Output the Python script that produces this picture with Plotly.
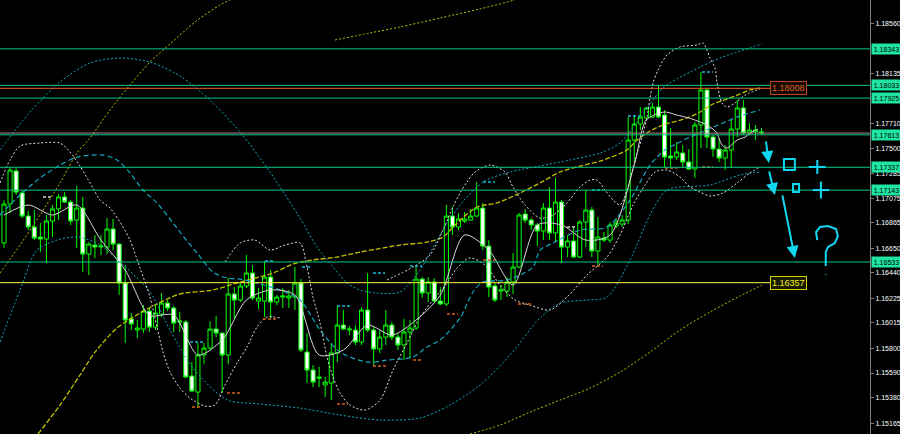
import plotly.graph_objects as go

# ---------------- candle data ----------------
open_ = [1.16694, 1.17025, 1.17306, 1.17119, 1.16923, 1.16830, 1.16745, 1.16728, 1.16881, 1.16983,
         1.17085, 1.17042, 1.16889, 1.16991, 1.16600, 1.16677, 1.16660, 1.16660, 1.16813, 1.16685,
         1.16354, 1.16048, 1.15955, 1.15963, 1.16116, 1.15980, 1.16091, 1.16184, 1.16142, 1.16023,
         1.16023, 1.15564, 1.15428, 1.15743, 1.15802, 1.15963, 1.15929, 1.15743, 1.16261, 1.16210,
         1.16329, 1.16439, 1.16201, 1.16201, 1.16405, 1.16193, 1.16235, 1.16227, 1.16235, 1.16354,
         1.15768, 1.15615, 1.15556, 1.15488, 1.15505, 1.15760, 1.15997, 1.15955, 1.15955, 1.15853,
         1.16125, 1.15955, 1.15794, 1.15895, 1.15997, 1.15895, 1.15828, 1.15938, 1.15972, 1.16388,
         1.16269, 1.16363, 1.16201, 1.16176, 1.16923, 1.16830, 1.16881, 1.16889, 1.16923, 1.16991,
         1.16668, 1.16329, 1.16286, 1.16286, 1.16363, 1.16490, 1.16940, 1.16889, 1.16847, 1.16796,
         1.16991, 1.16779, 1.17042, 1.16660, 1.16711, 1.16575, 1.16872, 1.16974, 1.16626, 1.16736,
         1.16719, 1.16838, 1.16855, 1.16889, 1.17569, 1.17705, 1.17756, 1.17764, 1.17849, 1.17781,
         1.17433, 1.17424, 1.17458, 1.17382, 1.17323, 1.17696, 1.17994, 1.17594, 1.17492, 1.17416,
         1.17484, 1.17662, 1.17841, 1.17628, 1.17637, 1.17628]
high = [1.17059, 1.17340, 1.17331, 1.17144, 1.16966, 1.16974, 1.16864, 1.16932, 1.17017, 1.17110,
        1.17127, 1.17059, 1.17178, 1.17085, 1.16702, 1.16762, 1.16762, 1.16906, 1.16898, 1.16694,
        1.16507, 1.16099, 1.16040, 1.16167, 1.16150, 1.16167, 1.16269, 1.16210, 1.16159, 1.16108,
        1.16040, 1.15683, 1.15845, 1.15845, 1.16031, 1.16074, 1.15929, 1.16397, 1.16320, 1.16354,
        1.16592, 1.16507, 1.16312, 1.16541, 1.16464, 1.16252, 1.16312, 1.16295, 1.16490, 1.16388,
        1.15929, 1.15658, 1.15641, 1.15556, 1.15845, 1.16159, 1.16125, 1.15989, 1.15997, 1.16150,
        1.16439, 1.15980, 1.15955, 1.16125, 1.16023, 1.15929, 1.16048, 1.16040, 1.16490, 1.16405,
        1.16405, 1.16397, 1.16320, 1.17017, 1.17000, 1.16949, 1.16957, 1.16983, 1.17212, 1.17034,
        1.16719, 1.16354, 1.16337, 1.16405, 1.16609, 1.16949, 1.16983, 1.16906, 1.16864, 1.17034,
        1.17170, 1.17246, 1.17059, 1.16762, 1.16830, 1.16889, 1.17144, 1.17000, 1.16915, 1.16787,
        1.16872, 1.16906, 1.16932, 1.17764, 1.17781, 1.17849, 1.17849, 1.17883, 1.18036, 1.17824,
        1.17671, 1.17552, 1.17526, 1.17492, 1.17722, 1.18146, 1.18011, 1.17611, 1.17586, 1.17526,
        1.17739, 1.17909, 1.17909, 1.17713, 1.17696, 1.17671]
low = [1.16651, 1.16949, 1.17102, 1.16906, 1.16804, 1.16719, 1.16617, 1.16524, 1.16745, 1.16889,
       1.17034, 1.16847, 1.16651, 1.16447, 1.16422, 1.16566, 1.16592, 1.16600, 1.16634, 1.16252,
       1.15845, 1.15955, 1.15887, 1.15929, 1.15938, 1.15955, 1.16065, 1.16116, 1.15938, 1.15938,
       1.15547, 1.15428, 1.15292, 1.15666, 1.15785, 1.15895, 1.15420, 1.15666, 1.16048, 1.16193,
       1.16312, 1.16210, 1.16133, 1.16065, 1.16057, 1.16167, 1.16142, 1.16142, 1.16125, 1.15768,
       1.15505, 1.15471, 1.15471, 1.15386, 1.15360, 1.15683, 1.15955, 1.15912, 1.15828, 1.15828,
       1.15938, 1.15649, 1.15760, 1.15828, 1.15870, 1.15785, 1.15700, 1.15717, 1.15955, 1.16227,
       1.16193, 1.16193, 1.16167, 1.16159, 1.16762, 1.16804, 1.16864, 1.16889, 1.16915, 1.16634,
       1.16235, 1.16193, 1.16210, 1.16235, 1.16261, 1.16481, 1.16864, 1.16804, 1.16668, 1.16719,
       1.16719, 1.16702, 1.16524, 1.16575, 1.16566, 1.16566, 1.16660, 1.16575, 1.16507, 1.16702,
       1.16694, 1.16821, 1.16830, 1.16855, 1.17382, 1.17654, 1.17739, 1.17756, 1.17756, 1.17340,
       1.17340, 1.17399, 1.17331, 1.17314, 1.17246, 1.17501, 1.17501, 1.17424, 1.17382, 1.17314,
       1.17331, 1.17594, 1.17611, 1.17611, 1.17569, 1.17611]
close = [1.17025, 1.17314, 1.17127, 1.16923, 1.16830, 1.16736, 1.16728, 1.16881, 1.16983, 1.17085,
         1.17042, 1.16881, 1.16991, 1.16600, 1.16685, 1.16660, 1.16668, 1.16813, 1.16685, 1.16354,
         1.16040, 1.16006, 1.15972, 1.16116, 1.15980, 1.16099, 1.16184, 1.16142, 1.16014, 1.16031,
         1.15556, 1.15437, 1.15743, 1.15802, 1.15963, 1.15929, 1.15743, 1.16261, 1.16210, 1.16329,
         1.16439, 1.16227, 1.16227, 1.16405, 1.16193, 1.16235, 1.16244, 1.16244, 1.16354, 1.15785,
         1.15615, 1.15513, 1.15547, 1.15513, 1.15760, 1.15997, 1.15963, 1.15963, 1.15853, 1.16125,
         1.15955, 1.15794, 1.15895, 1.15997, 1.15895, 1.15828, 1.15938, 1.15972, 1.16388, 1.16269,
         1.16363, 1.16201, 1.16176, 1.16923, 1.16830, 1.16898, 1.16898, 1.16923, 1.16991, 1.16668,
         1.16320, 1.16210, 1.16295, 1.16363, 1.16490, 1.16932, 1.16889, 1.16847, 1.16796, 1.16991,
         1.16779, 1.17042, 1.16660, 1.16711, 1.16575, 1.16872, 1.16974, 1.16626, 1.16745, 1.16719,
         1.16847, 1.16864, 1.16889, 1.17569, 1.17705, 1.17764, 1.17841, 1.17849, 1.17764, 1.17424,
         1.17416, 1.17467, 1.17382, 1.17323, 1.17696, 1.17994, 1.17594, 1.17492, 1.17416, 1.17484,
         1.17662, 1.17841, 1.17628, 1.17654, 1.17654, 1.17637]
bars = list(range(len(close)))

# ---------------- indicator lines (bar index, price) ----------------
yellow_mid_x = [5.61, 9.24, 12.54, 15.02, 18.65, 22.44, 25.25, 29.04, 34.49, 37.79, 44.39, 47.69,
                50.99, 54.95, 58.75, 61.55, 65.35, 69.80, 72.44, 74.42, 78.05, 81.35, 85.15, 88.45,
                91.75, 95.05, 98.35, 102.8, 104.46, 106.6, 108.75, 112.71, 114.85, 117.0, 119.31,
                121.45, 123.1, 125.08]
yellow_mid_y = [1.15072, 1.15318, 1.15573, 1.15768, 1.15972, 1.16099, 1.16176, 1.16261, 1.16295,
                1.16346, 1.16439, 1.16516, 1.16550, 1.16575, 1.16617, 1.16643, 1.16677, 1.16702,
                1.16745, 1.16847, 1.17000, 1.17034, 1.17119, 1.17204, 1.17297, 1.17348, 1.17390,
                1.17484, 1.17569, 1.17645, 1.17696, 1.17756, 1.17807, 1.17875, 1.17917, 1.17960,
                1.17994, 1.18011]
yellow_up_a_x = [-0.66, 2.64, 5.94, 9.24, 12.05, 14.19, 17.49, 20.79, 24.09, 27.39, 31.52, 35.64, 37.29]
yellow_up_a_y = [1.16439, 1.16677, 1.16932, 1.17204, 1.17458, 1.17586, 1.17824, 1.18036, 1.18231,
                 1.18384, 1.18571, 1.18716, 1.18758]
yellow_up_b_x = [54.62, 60.4, 65.35, 71.95, 78.55, 84.32]
yellow_up_b_y = [1.18418, 1.18478, 1.18529, 1.18605, 1.18682, 1.18758]
yellow_low_x = [76.9, 81.85, 86.8, 91.75, 96.7, 101.65, 106.6, 111.55, 116.5, 121.45, 125.08]
yellow_low_y = [1.15072, 1.15148, 1.15258, 1.15360, 1.15462, 1.15598, 1.15768, 1.15955, 1.16108,
                1.16244, 1.16337]

cyan_mid_x = [-0.66, 2.64, 5.94, 9.24, 12.05, 16.34, 18.65, 20.79, 22.94, 25.25, 27.89, 30.2, 31.85,
              34.49, 36.8, 38.94, 42.24, 45.54, 48.84, 52.15, 55.45, 59.9, 63.2, 67.49, 69.8, 71.95,
              75.25, 77.39, 79.04, 83.0, 87.29, 88.45, 90.59, 95.05, 99.5, 103.3, 106.6, 109.08,
              111.22, 113.2, 118.65, 120.96, 124.75]
cyan_mid_y = [1.16932, 1.17102, 1.17246, 1.17356, 1.17424, 1.17441, 1.17399, 1.17289, 1.17144,
              1.17034, 1.16864, 1.16711, 1.16609, 1.16447, 1.16397, 1.16388, 1.16346, 1.16295,
              1.16210, 1.15955, 1.15768, 1.15683, 1.15700, 1.15726, 1.15811, 1.15870, 1.16057,
              1.16278, 1.16363, 1.16380, 1.16490, 1.16634, 1.16694, 1.16804, 1.16830, 1.17059,
              1.17356, 1.17484, 1.17543, 1.17594, 1.17713, 1.17764, 1.17824]
cyan_up_x = [-0.66, 4.29, 9.24, 14.19, 19.14, 24.09, 29.04, 33.99, 38.94, 43.89, 48.84, 51.65, 54.29,
             56.6, 58.75, 61.55, 65.35, 68.65, 71.95, 75.25, 79.04, 83.5, 88.45, 93.4, 98.35, 101.65,
             104.95, 108.75, 113.2, 118.15, 125.08]
cyan_up_y = [1.17484, 1.17807, 1.18062, 1.18223, 1.18265, 1.18231, 1.18112, 1.17909, 1.17637,
             1.17297, 1.16906, 1.16660, 1.16490, 1.16354, 1.16295, 1.16269, 1.16278, 1.16464,
             1.16762, 1.17017, 1.17212, 1.17297, 1.17348, 1.17399, 1.17458, 1.17543, 1.17756,
             1.18011, 1.18146, 1.18265, 1.18384]
cyan_low_x = [-0.66, 2.64, 5.45, 8.75, 12.21, 15.84, 19.14, 24.09, 27.39, 31.19, 35.15, 37.29, 42.24,
              48.84, 55.45, 62.05, 68.65, 73.6, 78.55, 83.5, 88.45, 91.75, 96.2, 99.5, 103.3, 106.6,
              109.41, 116.5, 121.45, 124.75]
cyan_low_y = [1.15853, 1.16295, 1.16634, 1.16719, 1.16745, 1.16677, 1.16533, 1.16278, 1.15955,
              1.15632, 1.15420, 1.15352, 1.15327, 1.15292, 1.15233, 1.15191, 1.15208, 1.15318,
              1.15488, 1.15743, 1.16057, 1.16184, 1.16210, 1.16235, 1.16550, 1.16932, 1.17144,
              1.17187, 1.17272, 1.17297]

white_a_x = [-0.66, 0.99, 2.64, 5.94, 9.24, 10.89, 12.54, 14.69, 15.84, 17.49, 19.14, 20.79, 22.44,
             24.09, 25.25, 26.24, 27.39, 29.04, 30.69, 33.17, 34.82, 36.47, 38.45, 40.1, 41.75, 43.4,
             45.54]
white_a_y = [1.17204, 1.17399, 1.17518, 1.17543, 1.17543, 1.17467, 1.17348, 1.17161, 1.17059,
             1.16991, 1.16872, 1.16719, 1.16481, 1.16235, 1.15980, 1.15768, 1.15598, 1.15462,
             1.15377, 1.15309, 1.15318, 1.15488, 1.15675, 1.15811, 1.15980, 1.16065, 1.16057]
white_b_x = [36.47, 38.94, 41.42, 43.89, 46.37, 48.84, 50.0, 50.99, 52.15, 53.3, 54.29, 55.45, 57.1,
             59.57, 62.05, 64.19, 66.5, 68.65, 70.79, 73.1, 74.75, 76.9, 79.37, 81.85, 84.32, 86.8,
             90.1, 92.9, 96.2, 99.5, 101.65, 103.8, 105.78, 107.43, 109.41, 111.55, 113.2, 114.85,
             116.5, 118.65, 120.96, 123.1, 124.75]
white_b_y = [1.16533, 1.16694, 1.16719, 1.16634, 1.16677, 1.16694, 1.16490, 1.16235, 1.16014,
             1.15726, 1.15556, 1.15420, 1.15318, 1.15275, 1.15360, 1.15615, 1.15845, 1.16065,
             1.16210, 1.16354, 1.16481, 1.16567, 1.16507, 1.16337, 1.16210, 1.16167, 1.16125,
             1.16235, 1.16422, 1.16575, 1.16762, 1.17017, 1.17187, 1.17297, 1.17314, 1.17255,
             1.17170, 1.17127, 1.17093, 1.17119, 1.17204, 1.17289, 1.17340]
white_c_x = [63.2, 67.49, 70.3, 72.44, 74.09, 75.25, 76.4, 77.72, 80.2, 82.67, 83.99, 85.97, 88.45,
             90.59, 92.9, 95.05, 96.7, 97.85, 99.17, 100.5, 101.65, 102.8, 103.8, 105.28, 106.11,
             106.6, 107.1, 107.92, 109.41, 111.55, 114.36, 115.35, 116.5, 117.33, 117.66, 118.48,
             119.31, 120.63, 122.28, 124.75]
white_c_y = [1.16380, 1.16490, 1.16592, 1.16804, 1.17000, 1.17119, 1.17212, 1.17297, 1.17356,
             1.17297, 1.17170, 1.17017, 1.16906, 1.16932, 1.17034, 1.17170, 1.17229, 1.17229,
             1.17144, 1.17059, 1.17017, 1.17144, 1.17340, 1.17594, 1.17764, 1.17926, 1.18053,
             1.18163, 1.18291, 1.18359, 1.18376, 1.18393, 1.18265, 1.18180, 1.18053, 1.17883,
             1.17849, 1.17883, 1.17951, 1.18002]
white_ma_x = [0, 4, 8, 12, 16, 20, 24, 28, 32, 36, 40, 44, 48, 52, 56, 60, 64, 68, 72, 76, 80, 84,
              88, 92, 96, 100, 104, 106, 109, 111, 113, 116, 117.5, 118.5, 119.3, 121, 122.3,
              123.4, 124.4]
white_ma_y = [1.16932, 1.17017, 1.16932, 1.17017, 1.16719, 1.16464, 1.16082, 1.16082, 1.15743,
              1.15870, 1.16210, 1.16295, 1.16252, 1.15743, 1.15785, 1.15997, 1.15912, 1.16040,
              1.16252, 1.16762, 1.16634, 1.16337, 1.16847, 1.16847, 1.16719, 1.16762, 1.17356,
              1.17739, 1.17807, 1.17781, 1.17756, 1.17696, 1.17637, 1.17526, 1.17501, 1.17569,
              1.17594, 1.17637, 1.17662]

# short level marks (bar from, bar to, price)
orange_marks = [(31.02, 32.67, 1.15301), (36.8, 38.94, 1.15420), (42.74, 44.88, 1.16048),
                (54.95, 56.77, 1.15327), (60.89, 63.2, 1.15649), (67.49, 68.98, 1.15700),
                (73.1, 74.92, 1.16091), (79.04, 81.02, 1.16550), (84.82, 86.96, 1.16176),
                (97.03, 98.84, 1.16499), (109.08, 111.06, 1.17331), (115.18, 117.0, 1.17340)]
cyan_marks = [(30.69, 32.84, 1.15853), (43.07, 44.72, 1.16541), (49.17, 50.83, 1.16490),
              (54.95, 57.1, 1.16159), (60.89, 62.87, 1.16439), (67.0, 68.98, 1.16499),
              (79.04, 81.02, 1.17212), (97.03, 98.84, 1.17144), (102.97, 104.95, 1.17773),
              (115.18, 117.0, 1.18146)]
white_marks = [(6.44, 8.09, 1.17085), (92.9, 94.22, 1.16830)]

# ---------------- levels and axis ----------------
green_levels = [1.18343, 1.18033, 1.17925, 1.17613, 1.17337, 1.17143, 1.16533]
orange_level = 1.18008
yellow_level = 1.16357
grey_level = 1.17628
label_bar = 126.4

tick_vals = [1.18560, 1.18135, 1.17710, 1.17500, 1.17285, 1.17075, 1.16865, 1.16650,
             1.16440, 1.16225, 1.16015, 1.15800, 1.15590, 1.15380, 1.15165]
tick_text = ["%.5f" % v for v in tick_vals]

X_RANGE = [-0.66, 142.9]
Y_RANGE = [1.15072, 1.18758]

# hand-drawn objects (bar index, price)
arrows = [((125.7, 1.17569), (126.2, 1.17373)),
          ((126.2, 1.17314), (127.2, 1.17102)),
          ((128.4, 1.17110), (130.5, 1.16567))]
squares = [(128.7, 1.17408, 130.5, 1.17314), (130.2, 1.17195, 131.2, 1.17127)]
pluses = [(134.2, 1.17340, 1.4, 0.00060), (134.8, 1.17144, 1.35, 0.00072)]
qmark = [(134.2, 1.16719), (134.0, 1.16787), (134.65, 1.16830), (135.97, 1.16838),
         (137.3, 1.16813), (137.6, 1.16753), (137.1, 1.16694), (135.97, 1.16660),
         (135.6, 1.16617), (135.6, 1.16499)]
qdot = (135.6, 1.16422)

DRAW = "#10d8f0"
GREEN = "#00c88a"
GREEN_BOX = "#1ee6a0"
WHITE_DOT = "#e0e0e0"
CYAN = "#12a8c0"
YELLOW = "#c0c000"

fig = go.Figure()


def add_line(xs, ys, color, dash, width=1.0, smooth=True):
    fig.add_trace(go.Scatter(x=xs, y=ys, mode="lines", hoverinfo="skip", showlegend=False,
                             line=dict(color=color, width=width, dash=dash,
                                       shape="spline" if smooth else "linear",
                                       smoothing=0.8)))


add_line(yellow_mid_x, yellow_mid_y, YELLOW, "5px,2px", 1.3)
add_line(yellow_up_a_x, yellow_up_a_y, YELLOW, "2px,2px")
add_line(yellow_up_b_x, yellow_up_b_y, YELLOW, "2px,2px")
add_line(yellow_low_x, yellow_low_y, YELLOW, "2px,2px")
add_line(cyan_mid_x, cyan_mid_y, CYAN, "5px,3px", 1.2)
add_line(cyan_up_x, cyan_up_y, CYAN, "2px,2px")
add_line(cyan_low_x, cyan_low_y, CYAN, "2px,2px")
add_line(white_a_x, white_a_y, WHITE_DOT, "2px,2px")
add_line(white_b_x, white_b_y, WHITE_DOT, "2px,2px")
add_line(white_c_x, white_c_y, WHITE_DOT, "2px,2px")
add_line(white_ma_x, white_ma_y, "#d8d8d8", "solid", 1.0)
for marks, col in ((orange_marks, "#d8601c"), (cyan_marks, "#18b8d8"), (white_marks, "#d0d0d0")):
    for (b0, b1, pr) in marks:
        add_line([b0, b1], [pr, pr], col, "3px,2px", 1.5, smooth=False)

fig.add_trace(go.Candlestick(
    x=bars, open=open_, high=high, low=low, close=close,
    increasing=dict(line=dict(color="#00ff00", width=1), fillcolor="#000000"),
    decreasing=dict(line=dict(color="#00ff00", width=1), fillcolor="#ffffff"),
    whiskerwidth=0, showlegend=False, hoverinfo="skip"))

shapes = []
for lv in green_levels:
    shapes.append(dict(type="line", xref="paper", x0=0, x1=1, yref="y", y0=lv, y1=lv,
                       line=dict(color=GREEN, width=1)))
shapes.append(dict(type="line", xref="paper", x0=0, x1=1, yref="y", y0=grey_level, y1=grey_level,
                   line=dict(color="#9a8a90", width=1)))
shapes.append(dict(type="line", xref="x", x0=X_RANGE[0], x1=label_bar, yref="y",
                   y0=orange_level, y1=orange_level, line=dict(color="#f06020", width=1)))
shapes.append(dict(type="line", xref="x", x0=X_RANGE[0], x1=label_bar, yref="y",
                   y0=yellow_level, y1=yellow_level, line=dict(color="#ffff40", width=1)))
for (x0, y0, x1, y1) in squares:
    shapes.append(dict(type="rect", xref="x", yref="y", x0=x0, x1=x1, y0=y0, y1=y1,
                       line=dict(color=DRAW, width=2)))
for (cx, cy, dx, dy) in pluses:
    shapes.append(dict(type="line", xref="x", yref="y", x0=cx - dx, x1=cx + dx, y0=cy, y1=cy,
                       line=dict(color=DRAW, width=2)))
    shapes.append(dict(type="line", xref="x", yref="y", x0=cx, x1=cx, y0=cy - dy, y1=cy + dy,
                       line=dict(color=DRAW, width=2)))
path = "M " + " L ".join("%s,%s" % (a, b) for a, b in qmark)
shapes.append(dict(type="path", xref="x", yref="y", path=path, line=dict(color=DRAW, width=2)))
shapes.append(dict(type="line", xref="x", yref="y", x0=qdot[0], x1=qdot[0], y0=qdot[1],
                   y1=qdot[1] + 0.00005, line=dict(color=DRAW, width=2)))

annotations = []
for (a, b) in arrows:
    annotations.append(dict(x=b[0], y=b[1], ax=a[0], ay=a[1], xref="x", yref="y",
                            axref="x", ayref="y", showarrow=True, arrowhead=2,
                            arrowsize=1.2, arrowwidth=2, arrowcolor=DRAW, text=""))
for lv in green_levels:
    annotations.append(dict(x=1, xref="paper", y=lv, yref="y", xanchor="left", yanchor="middle",
                            xshift=1, text="%.5f" % lv, showarrow=False, bgcolor=GREEN_BOX,
                            width=27, height=8, borderpad=1, align="center",
                            font=dict(size=7, color="#000000", family="Liberation Sans")))
annotations.append(dict(x=label_bar, xref="x", y=orange_level, yref="y", xanchor="left",
                        yanchor="middle", text="1.18008", showarrow=False, bgcolor="#1a0a04",
                        bordercolor="#b84818", borderwidth=1, borderpad=1,
                        font=dict(size=9, color="#d86020", family="Liberation Sans")))
annotations.append(dict(x=label_bar, xref="x", y=yellow_level, yref="y", xanchor="left",
                        yanchor="middle", text="1.16357", showarrow=False, bgcolor="#1a1a00",
                        bordercolor="#d0d000", borderwidth=1, borderpad=1,
                        font=dict(size=9, color="#f0f020", family="Liberation Sans")))

fig.update_layout(
    width=900, height=434, margin=dict(l=0, r=30, t=0, b=0),
    paper_bgcolor="#000000", plot_bgcolor="#000000",
    boxgap=0.2, boxgroupgap=0.15,
    shapes=shapes, annotations=annotations, showlegend=False,
    xaxis=dict(range=X_RANGE, visible=False, rangeslider=dict(visible=False), fixedrange=True),
    yaxis=dict(range=Y_RANGE, side="right", showgrid=False, zeroline=False, showline=True,
               linecolor="#808080", linewidth=1, ticks="outside", ticklen=3, tickcolor="#808080",
               tickvals=tick_vals, ticktext=tick_text, fixedrange=True,
               tickfont=dict(size=7, color="#ffffff", family="Liberation Sans")),
)
fig.write_html("out.html", config={"displayModeBar": False},
               post_script="document.body.style.margin='0';document.body.style.overflow='hidden';"
                           "document.body.style.background='#000';")
